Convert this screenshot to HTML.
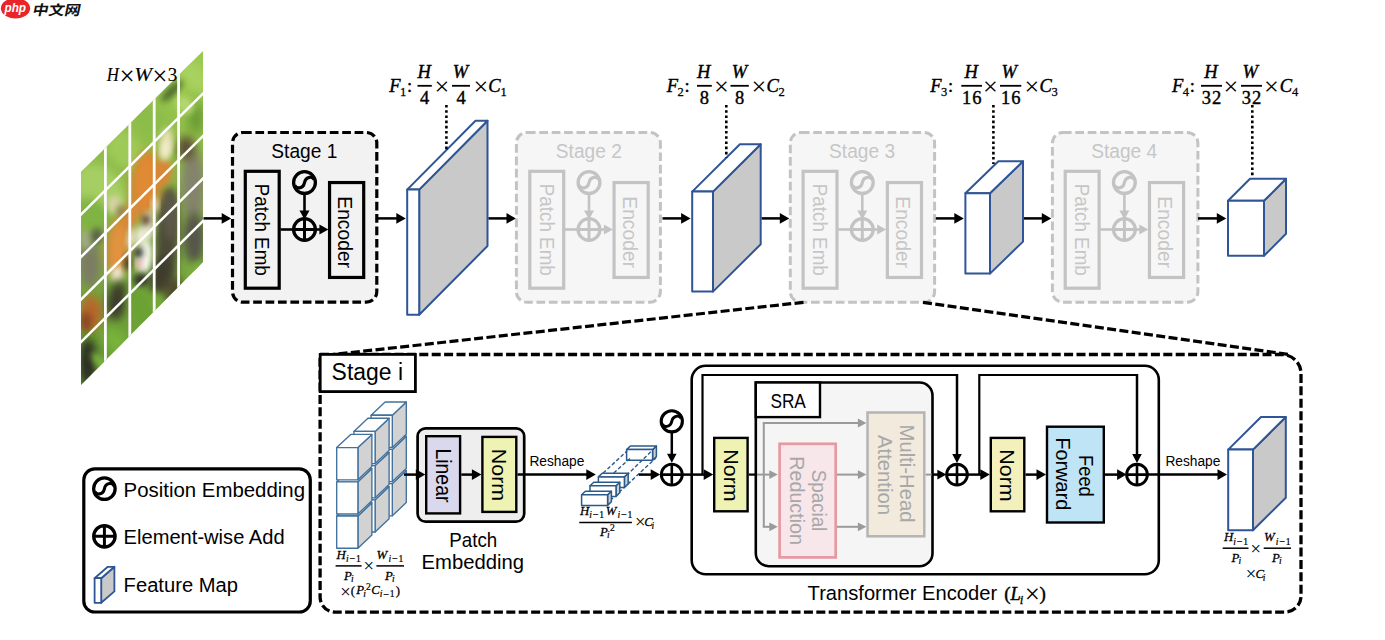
<!DOCTYPE html>
<html lang="zh"><head><meta charset="utf-8"><title>PVT architecture</title>
<style>html,body{margin:0;padding:0;background:#fff;}body{width:1385px;height:640px;overflow:hidden;}svg{display:block;}</style>
</head><body>
<svg width="1385" height="640" viewBox="0 0 1385 640">
<defs>
<filter id="b3" x="-50%" y="-50%" width="200%" height="200%"><feGaussianBlur stdDeviation="3"/></filter>
<filter id="b5" x="-50%" y="-50%" width="200%" height="200%"><feGaussianBlur stdDeviation="5"/></filter>
<filter id="b8" x="-50%" y="-50%" width="200%" height="200%"><feGaussianBlur stdDeviation="8"/></filter>
<clipPath id="pclip"><polygon points="81,172 203,51 203,262 81,385"/></clipPath>
<linearGradient id="bg" x1="0" y1="0" x2="0" y2="1"><stop offset="0" stop-color="#9cc94f"/><stop offset="0.5" stop-color="#86b545"/><stop offset="1" stop-color="#5f9630"/></linearGradient>
</defs>
<rect width="1385" height="640" fill="#fff"/>
<ellipse cx="15.5" cy="8.3" rx="14.6" ry="10.2" fill="#e8262a"/>
<text x="15.3" y="12.3" font-family="'Liberation Sans', sans-serif" font-size="13.5" font-weight="bold" font-style="italic" fill="#fff" text-anchor="middle" textLength="21.5" lengthAdjust="spacingAndGlyphs">php</text>
<text transform="translate(31.8,14.8) skewX(-12)" font-family="'Liberation Sans', 'Noto Sans CJK SC', sans-serif" font-size="13.8" font-weight="bold" fill="#111" textLength="48" lengthAdjust="spacingAndGlyphs">中文网</text>
<g clip-path="url(#pclip)">
<rect x="75" y="45" width="135" height="345" fill="url(#bg)"/>
<ellipse cx="100" cy="190" rx="22" ry="30" transform="rotate(-45 100 190)" fill="#a6cf63" filter="url(#b5)"/>
<ellipse cx="95" cy="215" rx="14" ry="20" transform="rotate(-45 95 215)" fill="#7fb342" filter="url(#b5)"/>
<ellipse cx="125" cy="150" rx="16" ry="22" transform="rotate(-45 125 150)" fill="#9fca58" filter="url(#b5)"/>
<ellipse cx="150" cy="120" rx="14" ry="18" transform="rotate(-45 150 120)" fill="#8cbc48" filter="url(#b5)"/>
<ellipse cx="192" cy="75" rx="12" ry="22" transform="rotate(-45 192 75)" fill="#a8d25e" filter="url(#b5)"/>
<ellipse cx="172" cy="91" rx="15" ry="4" transform="rotate(-45 172 91)" fill="#46622a" filter="url(#b3)"/>
<ellipse cx="196" cy="118" rx="8" ry="16" transform="rotate(0 196 118)" fill="#6c9c36" filter="url(#b5)"/>
<ellipse cx="185" cy="105" rx="8" ry="10" transform="rotate(-45 185 105)" fill="#b3d870" filter="url(#b3)"/>
<ellipse cx="193" cy="185" rx="12" ry="36" transform="rotate(0 193 185)" fill="#84826c" filter="url(#b5)"/>
<ellipse cx="194" cy="238" rx="11" ry="26" transform="rotate(0 194 238)" fill="#55554a" filter="url(#b5)"/>
<ellipse cx="186" cy="148" rx="9" ry="12" transform="rotate(0 186 148)" fill="#5c4c34" filter="url(#b5)"/>
<ellipse cx="198" cy="270" rx="7" ry="8" transform="rotate(0 198 270)" fill="#78ad3c" filter="url(#b3)"/>
<ellipse cx="90" cy="264" rx="11" ry="24" transform="rotate(0 90 264)" fill="#7b7b63" filter="url(#b5)"/>
<ellipse cx="86" cy="240" rx="6" ry="10" transform="rotate(0 86 240)" fill="#a3ab86" filter="url(#b3)"/>
<ellipse cx="97" cy="236" rx="6" ry="8" transform="rotate(0 97 236)" fill="#5a6148" filter="url(#b3)"/>
<ellipse cx="167" cy="240" rx="12" ry="54" transform="rotate(2 167 240)" fill="#4c4838" filter="url(#b5)"/>
<ellipse cx="170" cy="215" rx="7" ry="25" transform="rotate(0 170 215)" fill="#5d5848" filter="url(#b3)"/>
<ellipse cx="160" cy="275" rx="9" ry="20" transform="rotate(15 160 275)" fill="#3d3a2c" filter="url(#b5)"/>
<ellipse cx="174" cy="292" rx="7" ry="16" transform="rotate(10 174 292)" fill="#4a3c2a" filter="url(#b5)"/>
<ellipse cx="146" cy="184" rx="15" ry="34" transform="rotate(6 146 184)" fill="#d9822f" filter="url(#b5)"/>
<ellipse cx="145" cy="182" rx="10" ry="26" transform="rotate(6 145 182)" fill="#e08a34" filter="url(#b3)"/>
<ellipse cx="163" cy="173" rx="9" ry="14" transform="rotate(10 163 173)" fill="#d98634" filter="url(#b3)"/>
<ellipse cx="130" cy="216" rx="9" ry="18" transform="rotate(25 130 216)" fill="#d88a3a" filter="url(#b3)"/>
<ellipse cx="118" cy="247" rx="12" ry="30" transform="rotate(6 118 247)" fill="#d98a38" filter="url(#b5)"/>
<ellipse cx="118" cy="245" rx="6" ry="20" transform="rotate(6 118 245)" fill="#e29440" filter="url(#b3)"/>
<ellipse cx="166" cy="144" rx="6.5" ry="16" transform="rotate(8 166 144)" fill="#ebe2b8" filter="url(#b3)"/>
<ellipse cx="166" cy="150" rx="3.5" ry="9" transform="rotate(8 166 150)" fill="#f5efd2" filter="url(#b3)"/>
<ellipse cx="114" cy="204" rx="7" ry="9" transform="rotate(15 114 204)" fill="#d9d2a6" filter="url(#b3)"/>
<ellipse cx="121" cy="211" rx="4" ry="6" transform="rotate(0 121 211)" fill="#8c7a52" filter="url(#b3)"/>
<ellipse cx="148" cy="226" rx="5.5" ry="15" transform="rotate(3 148 226)" fill="#f1ead8" filter="url(#b3)"/>
<ellipse cx="144" cy="257" rx="8" ry="17" transform="rotate(6 144 257)" fill="#fbfaf3" filter="url(#b3)"/>
<ellipse cx="141" cy="236" rx="5.5" ry="10" transform="rotate(5 141 236)" fill="#f3eee0" filter="url(#b3)"/>
<ellipse cx="146" cy="220" rx="4" ry="5.5" transform="rotate(0 146 220)" fill="#4a2c16" filter="url(#b3)"/>
<ellipse cx="138.5" cy="252.5" rx="4.5" ry="5.2" transform="rotate(0 138.5 252.5)" fill="#1f1a16" filter="url(#b3)"/>
<ellipse cx="139.5" cy="264" rx="2.6" ry="3.2" transform="rotate(0 139.5 264)" fill="#d9707a" filter="url(#b3)"/>
<ellipse cx="132" cy="238" rx="4" ry="10" transform="rotate(10 132 238)" fill="#efe4cc" filter="url(#b3)"/>
<ellipse cx="117" cy="274" rx="6" ry="8" transform="rotate(15 117 274)" fill="#f1ecd8" filter="url(#b3)"/>
<ellipse cx="128" cy="263" rx="3.5" ry="8" transform="rotate(0 128 263)" fill="#3a2a1c" filter="url(#b3)"/>
<ellipse cx="155" cy="205" rx="3" ry="8" transform="rotate(0 155 205)" fill="#f1e8d0" filter="url(#b3)"/>
<ellipse cx="117" cy="301" rx="10" ry="20" transform="rotate(10 117 301)" fill="#3a3a2c" filter="url(#b5)"/>
<ellipse cx="141" cy="280" rx="8" ry="7" transform="rotate(0 141 280)" fill="#36342a" filter="url(#b3)"/>
<ellipse cx="91" cy="313" rx="11" ry="18" transform="rotate(0 91 313)" fill="#b9652c" filter="url(#b5)"/>
<ellipse cx="86" cy="322" rx="6" ry="10" transform="rotate(0 86 322)" fill="#8a4a22" filter="url(#b3)"/>
<ellipse cx="88" cy="362" rx="9" ry="24" transform="rotate(0 88 362)" fill="#2b2c24" filter="url(#b5)"/>
<ellipse cx="117" cy="343" rx="10" ry="18" transform="rotate(-40 117 343)" fill="#79b23a" filter="url(#b5)"/>
<ellipse cx="141" cy="306" rx="10" ry="19" transform="rotate(-30 141 306)" fill="#6aa233" filter="url(#b5)"/>
<ellipse cx="158" cy="303" rx="5" ry="12" transform="rotate(-30 158 303)" fill="#74aa38" filter="url(#b3)"/>
<ellipse cx="100" cy="362" rx="5" ry="12" transform="rotate(-40 100 362)" fill="#7cb53c" filter="url(#b3)"/>
<g transform="matrix(1,-0.992,0,1,81,172)" stroke="#fff" stroke-width="2.4" fill="none">
<line x1="24.4" y1="-5" x2="24.4" y2="220" stroke-width="2.8"/>
<line x1="48.8" y1="-5" x2="48.8" y2="220" stroke-width="2.8"/>
<line x1="73.2" y1="-5" x2="73.2" y2="220" stroke-width="2.8"/>
<line x1="97.6" y1="-5" x2="97.6" y2="220" stroke-width="2.8"/>
<line x1="-2" y1="42.5" x2="125" y2="42.5" stroke-width="3.5"/>
<line x1="-2" y1="85.0" x2="125" y2="85.0" stroke-width="3.5"/>
<line x1="-2" y1="127.5" x2="125" y2="127.5" stroke-width="3.5"/>
<line x1="-2" y1="170.0" x2="125" y2="170.0" stroke-width="3.5"/>
</g>
</g>
<text x="106.80" y="80.70" font-family="'Liberation Serif', serif" font-size="19" fill="#000" text-anchor="start" textLength="12.20" lengthAdjust="spacingAndGlyphs" font-style="italic" stroke="#000" stroke-width="0.15">H</text>
<text x="127.10" y="85.18" font-family="'Liberation Serif', serif" font-size="26.91" fill="#000" text-anchor="middle" >×</text>
<text x="134.20" y="80.70" font-family="'Liberation Serif', serif" font-size="19" fill="#000" text-anchor="start" textLength="17.80" lengthAdjust="spacingAndGlyphs" font-style="italic" stroke="#000" stroke-width="0.15">W</text>
<text x="159.80" y="85.18" font-family="'Liberation Serif', serif" font-size="26.91" fill="#000" text-anchor="middle" >×</text>
<text x="167.80" y="80.70" font-family="'Liberation Serif', serif" font-size="19" fill="#000" text-anchor="start" stroke="#000" stroke-width="0.15">3</text>
<line x1="203.50" y1="218.40" x2="222.70" y2="218.40" stroke="#000" stroke-width="2.5"/>
<polygon points="231.20,218.40 221.70,223.70 221.70,213.10" fill="#000"/>
<rect x="232.50" y="132.5" width="144.3" height="169.7" rx="10.5" ry="10.5" fill="#f2f2f2" stroke="#000" stroke-width="3.2" stroke-dasharray="8.7 3.7"/>
<text x="304.30" y="158.10" font-family="'Liberation Sans', sans-serif" font-size="20.5" fill="#000" text-anchor="middle" textLength="66.00" lengthAdjust="spacingAndGlyphs" >Stage 1</text>
<rect x="245.30" y="171.3" width="33.9" height="116.9" fill="#f2f2f2" stroke="#000" stroke-width="3.2"/>
<text transform="translate(255.20,183.80) rotate(90)" font-family="'Liberation Sans', sans-serif" font-size="20.6" fill="#000" textLength="92.00" lengthAdjust="spacingAndGlyphs">Patch Emb</text>
<rect x="329.55" y="182.55" width="34.15" height="94.9" fill="#f2f2f2" stroke="#000" stroke-width="3.2"/>
<text transform="translate(338.20,196.30) rotate(90)" font-family="'Liberation Sans', sans-serif" font-size="20.6" fill="#000" textLength="71.80" lengthAdjust="spacingAndGlyphs">Encoder</text>
<g transform="translate(304.50,182.60) rotate(0)">
<circle r="10.9" fill="none" stroke="#000" stroke-width="3.3"/>
<path d="M-9.59,2.62 C-8.61,6.54 -1.31,6.54 0,0 C1.31,-6.54 8.61,-6.54 9.59,-2.62" fill="none" stroke="#000" stroke-width="3.13"/>
</g>
<circle cx="304.50" cy="229.50" r="10.9" fill="none" stroke="#000" stroke-width="3.3"/>
<path d="M293.60,229.50H315.40M304.50,218.60V240.40" stroke="#000" stroke-width="2.97" fill="none"/>
<line x1="304.50" y1="194.00" x2="304.50" y2="211.60" stroke="#000" stroke-width="2.6"/>
<polygon points="304.50,219.60 299.50,210.60 309.50,210.60" fill="#000"/>
<line x1="280.50" y1="229.5" x2="294.00" y2="229.5" stroke="#000" stroke-width="2.6"/>
<line x1="315.00" y1="229.50" x2="320.40" y2="229.50" stroke="#000" stroke-width="2.6"/>
<polygon points="328.40,229.50 319.40,234.50 319.40,224.50" fill="#000"/>
<line x1="378.00" y1="218.40" x2="397.30" y2="218.40" stroke="#000" stroke-width="2.5"/>
<polygon points="405.80,218.40 396.30,223.70 396.30,213.10" fill="#000"/>
<polygon points="419.2,189.6 487.5,120.8 487.5,246.0 419.2,314.8" fill="#c9c9c9" stroke="#2f5597" stroke-width="2.0" stroke-linejoin="round"/>
<polygon points="407.2,189.6 475.5,120.8 487.5,120.8 419.2,189.6" fill="#fff" stroke="#2f5597" stroke-width="2.0" stroke-linejoin="round"/>
<rect x="407.2" y="189.6" width="12.0" height="125.20000000000002" fill="#fff" stroke="#2f5597" stroke-width="2.0" stroke-linejoin="round"/>
<line x1="488.50" y1="218.40" x2="507.50" y2="218.40" stroke="#000" stroke-width="2.5"/>
<polygon points="516.00,218.40 506.50,223.70 506.50,213.10" fill="#000"/>
<rect x="516.40" y="132.5" width="144.0" height="169.7" rx="10.5" ry="10.5" fill="#f6f6f6" stroke="#c3c3c3" stroke-width="3.0" stroke-dasharray="8.7 3.7"/>
<text x="588.80" y="158.10" font-family="'Liberation Sans', sans-serif" font-size="20.5" fill="#c6c6c6" text-anchor="middle" textLength="66.00" lengthAdjust="spacingAndGlyphs" >Stage 2</text>
<rect x="529.80" y="171.3" width="33.9" height="116.9" fill="#f6f6f6" stroke="#c3c3c3" stroke-width="3.2"/>
<text transform="translate(539.70,183.80) rotate(90)" font-family="'Liberation Sans', sans-serif" font-size="20.6" fill="#c6c6c6" textLength="92.00" lengthAdjust="spacingAndGlyphs">Patch Emb</text>
<rect x="614.05" y="182.55" width="34.15" height="94.9" fill="#f6f6f6" stroke="#c3c3c3" stroke-width="3.2"/>
<text transform="translate(622.70,196.30) rotate(90)" font-family="'Liberation Sans', sans-serif" font-size="20.6" fill="#c6c6c6" textLength="71.80" lengthAdjust="spacingAndGlyphs">Encoder</text>
<g transform="translate(589.00,182.60) rotate(0)">
<circle r="10.9" fill="none" stroke="#c3c3c3" stroke-width="3.3"/>
<path d="M-9.59,2.62 C-8.61,6.54 -1.31,6.54 0,0 C1.31,-6.54 8.61,-6.54 9.59,-2.62" fill="none" stroke="#c3c3c3" stroke-width="3.13"/>
</g>
<circle cx="589.00" cy="229.50" r="10.9" fill="none" stroke="#c3c3c3" stroke-width="3.3"/>
<path d="M578.10,229.50H599.90M589.00,218.60V240.40" stroke="#c3c3c3" stroke-width="2.97" fill="none"/>
<line x1="589.00" y1="194.00" x2="589.00" y2="211.60" stroke="#c3c3c3" stroke-width="2.6"/>
<polygon points="589.00,219.60 584.00,210.60 594.00,210.60" fill="#c3c3c3"/>
<line x1="565.00" y1="229.5" x2="578.50" y2="229.5" stroke="#c3c3c3" stroke-width="2.6"/>
<line x1="599.50" y1="229.50" x2="604.90" y2="229.50" stroke="#c3c3c3" stroke-width="2.6"/>
<polygon points="612.90,229.50 603.90,234.50 603.90,224.50" fill="#c3c3c3"/>
<line x1="662.50" y1="218.40" x2="682.10" y2="218.40" stroke="#000" stroke-width="2.5"/>
<polygon points="690.60,218.40 681.10,223.70 681.10,213.10" fill="#000"/>
<polygon points="713,191.6 760.7,144.3 760.7,244.3 713,291.6" fill="#c9c9c9" stroke="#2f5597" stroke-width="2.0" stroke-linejoin="round"/>
<polygon points="692.2,191.6 739.9000000000001,144.3 760.7,144.3 713,191.6" fill="#fff" stroke="#2f5597" stroke-width="2.0" stroke-linejoin="round"/>
<rect x="692.2" y="191.6" width="20.799999999999955" height="100.00000000000003" fill="#fff" stroke="#2f5597" stroke-width="2.0" stroke-linejoin="round"/>
<line x1="761.70" y1="218.40" x2="780.80" y2="218.40" stroke="#000" stroke-width="2.5"/>
<polygon points="789.30,218.40 779.80,223.70 779.80,213.10" fill="#000"/>
<rect x="790.30" y="132.5" width="144.3" height="169.7" rx="10.5" ry="10.5" fill="#f6f6f6" stroke="#c3c3c3" stroke-width="3.0" stroke-dasharray="8.7 3.7"/>
<text x="862.10" y="158.10" font-family="'Liberation Sans', sans-serif" font-size="20.5" fill="#c6c6c6" text-anchor="middle" textLength="66.00" lengthAdjust="spacingAndGlyphs" >Stage 3</text>
<rect x="803.10" y="171.3" width="33.9" height="116.9" fill="#f6f6f6" stroke="#c3c3c3" stroke-width="3.2"/>
<text transform="translate(813.00,183.80) rotate(90)" font-family="'Liberation Sans', sans-serif" font-size="20.6" fill="#c6c6c6" textLength="92.00" lengthAdjust="spacingAndGlyphs">Patch Emb</text>
<rect x="887.35" y="182.55" width="34.15" height="94.9" fill="#f6f6f6" stroke="#c3c3c3" stroke-width="3.2"/>
<text transform="translate(896.00,196.30) rotate(90)" font-family="'Liberation Sans', sans-serif" font-size="20.6" fill="#c6c6c6" textLength="71.80" lengthAdjust="spacingAndGlyphs">Encoder</text>
<g transform="translate(862.30,182.60) rotate(0)">
<circle r="10.9" fill="none" stroke="#c3c3c3" stroke-width="3.3"/>
<path d="M-9.59,2.62 C-8.61,6.54 -1.31,6.54 0,0 C1.31,-6.54 8.61,-6.54 9.59,-2.62" fill="none" stroke="#c3c3c3" stroke-width="3.13"/>
</g>
<circle cx="862.30" cy="229.50" r="10.9" fill="none" stroke="#c3c3c3" stroke-width="3.3"/>
<path d="M851.40,229.50H873.20M862.30,218.60V240.40" stroke="#c3c3c3" stroke-width="2.97" fill="none"/>
<line x1="862.30" y1="194.00" x2="862.30" y2="211.60" stroke="#c3c3c3" stroke-width="2.6"/>
<polygon points="862.30,219.60 857.30,210.60 867.30,210.60" fill="#c3c3c3"/>
<line x1="838.30" y1="229.5" x2="851.80" y2="229.5" stroke="#c3c3c3" stroke-width="2.6"/>
<line x1="872.80" y1="229.50" x2="878.20" y2="229.50" stroke="#c3c3c3" stroke-width="2.6"/>
<polygon points="886.20,229.50 877.20,234.50 877.20,224.50" fill="#c3c3c3"/>
<line x1="935.80" y1="218.40" x2="955.30" y2="218.40" stroke="#000" stroke-width="2.5"/>
<polygon points="963.80,218.40 954.30,223.70 954.30,213.10" fill="#000"/>
<polygon points="990,193.3 1023,161.3 1023,241.60000000000002 990,273.6" fill="#c9c9c9" stroke="#2f5597" stroke-width="2.0" stroke-linejoin="round"/>
<polygon points="965.4,193.3 998.4,161.3 1023,161.3 990,193.3" fill="#fff" stroke="#2f5597" stroke-width="2.0" stroke-linejoin="round"/>
<rect x="965.4" y="193.3" width="24.600000000000023" height="80.30000000000001" fill="#fff" stroke="#2f5597" stroke-width="2.0" stroke-linejoin="round"/>
<line x1="1024.00" y1="218.40" x2="1042.80" y2="218.40" stroke="#000" stroke-width="2.5"/>
<polygon points="1051.30,218.40 1041.80,223.70 1041.80,213.10" fill="#000"/>
<rect x="1052.40" y="132.5" width="145.5" height="169.7" rx="10.5" ry="10.5" fill="#f6f6f6" stroke="#c3c3c3" stroke-width="3.0" stroke-dasharray="8.7 3.7"/>
<text x="1124.20" y="158.10" font-family="'Liberation Sans', sans-serif" font-size="20.5" fill="#c6c6c6" text-anchor="middle" textLength="66.00" lengthAdjust="spacingAndGlyphs" >Stage 4</text>
<rect x="1065.20" y="171.3" width="33.9" height="116.9" fill="#f6f6f6" stroke="#c3c3c3" stroke-width="3.2"/>
<text transform="translate(1075.10,183.80) rotate(90)" font-family="'Liberation Sans', sans-serif" font-size="20.6" fill="#c6c6c6" textLength="92.00" lengthAdjust="spacingAndGlyphs">Patch Emb</text>
<rect x="1149.45" y="182.55" width="34.15" height="94.9" fill="#f6f6f6" stroke="#c3c3c3" stroke-width="3.2"/>
<text transform="translate(1158.10,196.30) rotate(90)" font-family="'Liberation Sans', sans-serif" font-size="20.6" fill="#c6c6c6" textLength="71.80" lengthAdjust="spacingAndGlyphs">Encoder</text>
<g transform="translate(1124.40,182.60) rotate(0)">
<circle r="10.9" fill="none" stroke="#c3c3c3" stroke-width="3.3"/>
<path d="M-9.59,2.62 C-8.61,6.54 -1.31,6.54 0,0 C1.31,-6.54 8.61,-6.54 9.59,-2.62" fill="none" stroke="#c3c3c3" stroke-width="3.13"/>
</g>
<circle cx="1124.40" cy="229.50" r="10.9" fill="none" stroke="#c3c3c3" stroke-width="3.3"/>
<path d="M1113.50,229.50H1135.30M1124.40,218.60V240.40" stroke="#c3c3c3" stroke-width="2.97" fill="none"/>
<line x1="1124.40" y1="194.00" x2="1124.40" y2="211.60" stroke="#c3c3c3" stroke-width="2.6"/>
<polygon points="1124.40,219.60 1119.40,210.60 1129.40,210.60" fill="#c3c3c3"/>
<line x1="1100.40" y1="229.5" x2="1113.90" y2="229.5" stroke="#c3c3c3" stroke-width="2.6"/>
<line x1="1134.90" y1="229.50" x2="1140.30" y2="229.50" stroke="#c3c3c3" stroke-width="2.6"/>
<polygon points="1148.30,229.50 1139.30,234.50 1139.30,224.50" fill="#c3c3c3"/>
<line x1="1198.00" y1="218.40" x2="1217.80" y2="218.40" stroke="#000" stroke-width="2.5"/>
<polygon points="1226.30,218.40 1216.80,223.70 1216.80,213.10" fill="#000"/>
<polygon points="1264,200.8 1286,178.8 1286,233.8 1264,255.8" fill="#c9c9c9" stroke="#2f5597" stroke-width="2.0" stroke-linejoin="round"/>
<polygon points="1228,200.8 1250,178.8 1286,178.8 1264,200.8" fill="#fff" stroke="#2f5597" stroke-width="2.0" stroke-linejoin="round"/>
<rect x="1228" y="200.8" width="36" height="55.0" fill="#fff" stroke="#2f5597" stroke-width="2.0" stroke-linejoin="round"/>
<line x1="446.4" y1="105" x2="446.4" y2="151.5" stroke="#000" stroke-width="2.6" stroke-dasharray="2.6 2.6"/>
<line x1="726.3" y1="105" x2="726.3" y2="157.5" stroke="#000" stroke-width="2.6" stroke-dasharray="2.6 2.6"/>
<line x1="993.4" y1="105" x2="993.4" y2="164" stroke="#000" stroke-width="2.6" stroke-dasharray="2.6 2.6"/>
<line x1="1252.3" y1="105" x2="1252.3" y2="176.5" stroke="#000" stroke-width="2.6" stroke-dasharray="2.6 2.6"/>
<text x="389.20" y="91.70" font-family="'Liberation Serif', serif" font-size="18.5" fill="#000" text-anchor="start" font-style="italic" stroke="#000" stroke-width="0.41">F</text>
<text x="399.90" y="96.20" font-family="'Liberation Serif', serif" font-size="12.5" fill="#000" text-anchor="start" stroke="#000" stroke-width="0.27">1</text>
<text x="406.90" y="91.70" font-family="'Liberation Serif', serif" font-size="18.5" fill="#000" text-anchor="start" stroke="#000" stroke-width="0.41">:</text>
<text x="424.30" y="77.50" font-family="'Liberation Serif', serif" font-size="18.5" fill="#000" text-anchor="middle" font-style="italic" stroke="#000" stroke-width="0.41">H</text>
<line x1="417.50" y1="85.80" x2="431.80" y2="85.80" stroke="#000" stroke-width="1.8"/>
<text x="424.65" y="104.30" font-family="'Liberation Serif', serif" font-size="18.5" fill="#000" text-anchor="middle" stroke="#000" stroke-width="0.41">4</text>
<text x="441.80" y="95.45" font-family="'Liberation Serif', serif" font-size="26.22" fill="#000" text-anchor="middle" >×</text>
<text x="460.50" y="77.50" font-family="'Liberation Serif', serif" font-size="18.5" fill="#000" text-anchor="middle" font-style="italic" stroke="#000" stroke-width="0.41">W</text>
<line x1="452.00" y1="85.80" x2="470.00" y2="85.80" stroke="#000" stroke-width="1.8"/>
<text x="461.00" y="104.30" font-family="'Liberation Serif', serif" font-size="18.5" fill="#000" text-anchor="middle" stroke="#000" stroke-width="0.41">4</text>
<text x="480.80" y="95.45" font-family="'Liberation Serif', serif" font-size="26.22" fill="#000" text-anchor="middle" >×</text>
<text x="488.30" y="91.70" font-family="'Liberation Serif', serif" font-size="18.5" fill="#000" text-anchor="start" font-style="italic" stroke="#000" stroke-width="0.41">C</text>
<text x="500.40" y="96.20" font-family="'Liberation Serif', serif" font-size="12.5" fill="#000" text-anchor="start" stroke="#000" stroke-width="0.27">1</text>
<text x="666.70" y="91.70" font-family="'Liberation Serif', serif" font-size="18.5" fill="#000" text-anchor="start" font-style="italic" stroke="#000" stroke-width="0.41">F</text>
<text x="677.40" y="96.20" font-family="'Liberation Serif', serif" font-size="12.5" fill="#000" text-anchor="start" stroke="#000" stroke-width="0.27">2</text>
<text x="684.40" y="91.70" font-family="'Liberation Serif', serif" font-size="18.5" fill="#000" text-anchor="start" stroke="#000" stroke-width="0.41">:</text>
<text x="703.80" y="77.50" font-family="'Liberation Serif', serif" font-size="18.5" fill="#000" text-anchor="middle" font-style="italic" stroke="#000" stroke-width="0.41">H</text>
<line x1="697.00" y1="85.80" x2="711.80" y2="85.80" stroke="#000" stroke-width="1.8"/>
<text x="704.40" y="104.30" font-family="'Liberation Serif', serif" font-size="18.5" fill="#000" text-anchor="middle" stroke="#000" stroke-width="0.41">8</text>
<text x="721.30" y="95.45" font-family="'Liberation Serif', serif" font-size="26.22" fill="#000" text-anchor="middle" >×</text>
<text x="739.50" y="77.50" font-family="'Liberation Serif', serif" font-size="18.5" fill="#000" text-anchor="middle" font-style="italic" stroke="#000" stroke-width="0.41">W</text>
<line x1="730.50" y1="85.80" x2="748.80" y2="85.80" stroke="#000" stroke-width="1.8"/>
<text x="739.65" y="104.30" font-family="'Liberation Serif', serif" font-size="18.5" fill="#000" text-anchor="middle" stroke="#000" stroke-width="0.41">8</text>
<text x="758.80" y="95.45" font-family="'Liberation Serif', serif" font-size="26.22" fill="#000" text-anchor="middle" >×</text>
<text x="766.50" y="91.70" font-family="'Liberation Serif', serif" font-size="18.5" fill="#000" text-anchor="start" font-style="italic" stroke="#000" stroke-width="0.41">C</text>
<text x="778.60" y="96.20" font-family="'Liberation Serif', serif" font-size="12.5" fill="#000" text-anchor="start" stroke="#000" stroke-width="0.27">2</text>
<text x="930.20" y="91.70" font-family="'Liberation Serif', serif" font-size="18.5" fill="#000" text-anchor="start" font-style="italic" stroke="#000" stroke-width="0.41">F</text>
<text x="940.90" y="96.20" font-family="'Liberation Serif', serif" font-size="12.5" fill="#000" text-anchor="start" stroke="#000" stroke-width="0.27">3</text>
<text x="947.90" y="91.70" font-family="'Liberation Serif', serif" font-size="18.5" fill="#000" text-anchor="start" stroke="#000" stroke-width="0.41">:</text>
<text x="971.30" y="77.50" font-family="'Liberation Serif', serif" font-size="18.5" fill="#000" text-anchor="middle" font-style="italic" stroke="#000" stroke-width="0.41">H</text>
<line x1="961.30" y1="85.80" x2="982.00" y2="85.80" stroke="#000" stroke-width="1.8"/>
<text x="972.15" y="104.30" font-family="'Liberation Serif', serif" font-size="18.5" fill="#000" text-anchor="middle" letter-spacing="1" stroke="#000" stroke-width="0.41">16</text>
<text x="990.50" y="95.45" font-family="'Liberation Serif', serif" font-size="26.22" fill="#000" text-anchor="middle" >×</text>
<text x="1009.30" y="77.50" font-family="'Liberation Serif', serif" font-size="18.5" fill="#000" text-anchor="middle" font-style="italic" stroke="#000" stroke-width="0.41">W</text>
<line x1="1000.00" y1="85.80" x2="1021.30" y2="85.80" stroke="#000" stroke-width="1.8"/>
<text x="1011.15" y="104.30" font-family="'Liberation Serif', serif" font-size="18.5" fill="#000" text-anchor="middle" letter-spacing="1" stroke="#000" stroke-width="0.41">16</text>
<text x="1031.80" y="95.45" font-family="'Liberation Serif', serif" font-size="26.22" fill="#000" text-anchor="middle" >×</text>
<text x="1039.50" y="91.70" font-family="'Liberation Serif', serif" font-size="18.5" fill="#000" text-anchor="start" font-style="italic" stroke="#000" stroke-width="0.41">C</text>
<text x="1051.60" y="96.20" font-family="'Liberation Serif', serif" font-size="12.5" fill="#000" text-anchor="start" stroke="#000" stroke-width="0.27">3</text>
<text x="1172.00" y="91.70" font-family="'Liberation Serif', serif" font-size="18.5" fill="#000" text-anchor="start" font-style="italic" stroke="#000" stroke-width="0.41">F</text>
<text x="1182.70" y="96.20" font-family="'Liberation Serif', serif" font-size="12.5" fill="#000" text-anchor="start" stroke="#000" stroke-width="0.27">4</text>
<text x="1189.70" y="91.70" font-family="'Liberation Serif', serif" font-size="18.5" fill="#000" text-anchor="start" stroke="#000" stroke-width="0.41">:</text>
<text x="1211.00" y="77.50" font-family="'Liberation Serif', serif" font-size="18.5" fill="#000" text-anchor="middle" font-style="italic" stroke="#000" stroke-width="0.41">H</text>
<line x1="1201.00" y1="85.80" x2="1222.00" y2="85.80" stroke="#000" stroke-width="1.8"/>
<text x="1212.00" y="104.30" font-family="'Liberation Serif', serif" font-size="18.5" fill="#000" text-anchor="middle" letter-spacing="1" stroke="#000" stroke-width="0.41">32</text>
<text x="1231.00" y="95.45" font-family="'Liberation Serif', serif" font-size="26.22" fill="#000" text-anchor="middle" >×</text>
<text x="1250.30" y="77.50" font-family="'Liberation Serif', serif" font-size="18.5" fill="#000" text-anchor="middle" font-style="italic" stroke="#000" stroke-width="0.41">W</text>
<line x1="1241.00" y1="85.80" x2="1262.00" y2="85.80" stroke="#000" stroke-width="1.8"/>
<text x="1252.00" y="104.30" font-family="'Liberation Serif', serif" font-size="18.5" fill="#000" text-anchor="middle" letter-spacing="1" stroke="#000" stroke-width="0.41">32</text>
<text x="1271.50" y="95.45" font-family="'Liberation Serif', serif" font-size="26.22" fill="#000" text-anchor="middle" >×</text>
<text x="1279.80" y="91.70" font-family="'Liberation Serif', serif" font-size="18.5" fill="#000" text-anchor="start" font-style="italic" stroke="#000" stroke-width="0.41">C</text>
<text x="1291.90" y="96.20" font-family="'Liberation Serif', serif" font-size="12.5" fill="#000" text-anchor="start" stroke="#000" stroke-width="0.27">4</text>
<line x1="803.5" y1="302.3" x2="320" y2="356" stroke="#000" stroke-width="3.2" stroke-dasharray="9 3.4"/>
<line x1="923" y1="302.4" x2="1290" y2="354.6" stroke="#000" stroke-width="3.2" stroke-dasharray="9 3.4"/>
<path d="M320.1,354.5H1282.0A19,19 0 0 1 1301.0,373.5V596.1A16,16 0 0 1 1285.0,612.1H335.1A15,15 0 0 1 320.1,597.1Z" fill="none" stroke="#000" stroke-width="3.3" stroke-dasharray="9 3.4"/>
<rect x="320.2" y="354.4" width="95.2" height="37.2" fill="#fff" stroke="#000" stroke-width="2.8"/>
<text x="331.60" y="380.20" font-family="'Liberation Sans', sans-serif" font-size="23.5" fill="#000" text-anchor="start" textLength="71.40" lengthAdjust="spacingAndGlyphs" >Stage i</text>
<polygon points="392.30,483.60 406.30,470.40 406.30,502.60 392.30,515.80" fill="#d2d2d2" stroke="#41719c" stroke-width="1.35" stroke-linejoin="round"/>
<polygon points="371.10,483.60 385.10,470.40 406.30,470.40 392.30,483.60" fill="#fff" stroke="#41719c" stroke-width="1.35" stroke-linejoin="round"/>
<rect x="371.10" y="483.60" width="21.20" height="32.20" fill="#fff" stroke="#41719c" stroke-width="1.35" stroke-linejoin="round"/>
<polygon points="392.30,449.40 406.30,436.20 406.30,468.40 392.30,481.60" fill="#d2d2d2" stroke="#41719c" stroke-width="1.35" stroke-linejoin="round"/>
<polygon points="371.10,449.40 385.10,436.20 406.30,436.20 392.30,449.40" fill="#fff" stroke="#41719c" stroke-width="1.35" stroke-linejoin="round"/>
<rect x="371.10" y="449.40" width="21.20" height="32.20" fill="#fff" stroke="#41719c" stroke-width="1.35" stroke-linejoin="round"/>
<polygon points="392.30,415.20 406.30,402.00 406.30,434.20 392.30,447.40" fill="#d2d2d2" stroke="#41719c" stroke-width="1.35" stroke-linejoin="round"/>
<polygon points="371.10,415.20 385.10,402.00 406.30,402.00 392.30,415.20" fill="#fff" stroke="#41719c" stroke-width="1.35" stroke-linejoin="round"/>
<rect x="371.10" y="415.20" width="21.20" height="32.20" fill="#fff" stroke="#41719c" stroke-width="1.35" stroke-linejoin="round"/>
<polygon points="375.10,499.80 389.10,486.60 389.10,518.80 375.10,532.00" fill="#d2d2d2" stroke="#41719c" stroke-width="1.35" stroke-linejoin="round"/>
<polygon points="353.90,499.80 367.90,486.60 389.10,486.60 375.10,499.80" fill="#fff" stroke="#41719c" stroke-width="1.35" stroke-linejoin="round"/>
<rect x="353.90" y="499.80" width="21.20" height="32.20" fill="#fff" stroke="#41719c" stroke-width="1.35" stroke-linejoin="round"/>
<polygon points="375.10,465.60 389.10,452.40 389.10,484.60 375.10,497.80" fill="#d2d2d2" stroke="#41719c" stroke-width="1.35" stroke-linejoin="round"/>
<polygon points="353.90,465.60 367.90,452.40 389.10,452.40 375.10,465.60" fill="#fff" stroke="#41719c" stroke-width="1.35" stroke-linejoin="round"/>
<rect x="353.90" y="465.60" width="21.20" height="32.20" fill="#fff" stroke="#41719c" stroke-width="1.35" stroke-linejoin="round"/>
<polygon points="375.10,431.40 389.10,418.20 389.10,450.40 375.10,463.60" fill="#d2d2d2" stroke="#41719c" stroke-width="1.35" stroke-linejoin="round"/>
<polygon points="353.90,431.40 367.90,418.20 389.10,418.20 375.10,431.40" fill="#fff" stroke="#41719c" stroke-width="1.35" stroke-linejoin="round"/>
<rect x="353.90" y="431.40" width="21.20" height="32.20" fill="#fff" stroke="#41719c" stroke-width="1.35" stroke-linejoin="round"/>
<polygon points="357.90,516.00 371.90,502.80 371.90,535.00 357.90,548.20" fill="#d2d2d2" stroke="#41719c" stroke-width="1.35" stroke-linejoin="round"/>
<polygon points="336.70,516.00 350.70,502.80 371.90,502.80 357.90,516.00" fill="#fff" stroke="#41719c" stroke-width="1.35" stroke-linejoin="round"/>
<rect x="336.70" y="516.00" width="21.20" height="32.20" fill="#fff" stroke="#41719c" stroke-width="1.35" stroke-linejoin="round"/>
<polygon points="357.90,481.80 371.90,468.60 371.90,500.80 357.90,514.00" fill="#d2d2d2" stroke="#41719c" stroke-width="1.35" stroke-linejoin="round"/>
<polygon points="336.70,481.80 350.70,468.60 371.90,468.60 357.90,481.80" fill="#fff" stroke="#41719c" stroke-width="1.35" stroke-linejoin="round"/>
<rect x="336.70" y="481.80" width="21.20" height="32.20" fill="#fff" stroke="#41719c" stroke-width="1.35" stroke-linejoin="round"/>
<polygon points="357.90,447.60 371.90,434.40 371.90,466.60 357.90,479.80" fill="#d2d2d2" stroke="#41719c" stroke-width="1.35" stroke-linejoin="round"/>
<polygon points="336.70,447.60 350.70,434.40 371.90,434.40 357.90,447.60" fill="#fff" stroke="#41719c" stroke-width="1.35" stroke-linejoin="round"/>
<rect x="336.70" y="447.60" width="21.20" height="32.20" fill="#fff" stroke="#41719c" stroke-width="1.35" stroke-linejoin="round"/>
<rect x="417.6" y="428.3" width="106.6" height="93.4" rx="8" ry="8" fill="#eeeeee" stroke="#000" stroke-width="2.7"/>
<rect x="426.2" y="436.2" width="33.9" height="77.2" fill="#dad8ec" stroke="#000" stroke-width="2.4"/>
<rect x="482.4" y="436.9" width="33.9" height="75" fill="#eef2b3" stroke="#000" stroke-width="2.4"/>
<text transform="translate(435.70,448.40) rotate(90)" font-family="'Liberation Sans', sans-serif" font-size="21.5" fill="#000" textLength="54.00" lengthAdjust="spacingAndGlyphs">Linear</text>
<text transform="translate(491.90,448.80) rotate(90)" font-family="'Liberation Sans', sans-serif" font-size="21" fill="#000" textLength="52.30" lengthAdjust="spacingAndGlyphs">Norm</text>
<line x1="404.00" y1="474.60" x2="416.80" y2="474.60" stroke="#000" stroke-width="2.5"/>
<polygon points="425.30,474.60 415.80,479.90 415.80,469.30" fill="#000"/>
<line x1="461.30" y1="474.60" x2="472.90" y2="474.60" stroke="#000" stroke-width="2.5"/>
<polygon points="481.40,474.60 471.90,479.90 471.90,469.30" fill="#000"/>
<line x1="517.50" y1="474.60" x2="587.30" y2="474.60" stroke="#000" stroke-width="2.5"/>
<polygon points="595.80,474.60 586.30,479.90 586.30,469.30" fill="#000"/>
<text x="529.40" y="466.30" font-family="'Liberation Sans', sans-serif" font-size="14" fill="#000" text-anchor="start" textLength="55.00" lengthAdjust="spacingAndGlyphs" >Reshape</text>
<text x="473.30" y="546.50" font-family="'Liberation Sans', sans-serif" font-size="21" fill="#000" text-anchor="middle" textLength="48.00" lengthAdjust="spacingAndGlyphs" >Patch</text>
<text x="472.80" y="569.00" font-family="'Liberation Sans', sans-serif" font-size="21" fill="#000" text-anchor="middle" textLength="102.50" lengthAdjust="spacingAndGlyphs" >Embedding</text>
<polygon points="652.60,449.60 656.40,446.00 656.40,456.60 652.60,460.20" fill="#cfcfcf" stroke="#2a5a8c" stroke-width="1.5" stroke-linejoin="round"/>
<polygon points="626.60,449.60 630.40,446.00 656.40,446.00 652.60,449.60" fill="#fff" stroke="#2a5a8c" stroke-width="1.5" stroke-linejoin="round"/>
<rect x="626.60" y="449.60" width="26.00" height="10.60" fill="#fff" stroke="#2a5a8c" stroke-width="1.5" stroke-linejoin="round"/>
<g stroke="#2a5a8c" stroke-width="1.4" stroke-dasharray="3.8 2.2" fill="none">
<line x1="603.1" y1="473.1" x2="627.2" y2="450.8"/>
<line x1="613.7" y1="473.1" x2="630.1" y2="458.4"/>
<line x1="626.6" y1="475.4" x2="652.4" y2="450.2"/>
<line x1="610.2" y1="500.6" x2="655.9" y2="457.9"/>
</g>
<polygon points="624.40,476.90 628.20,473.30 628.20,483.90 624.40,487.50" fill="#cfcfcf" stroke="#2a5a8c" stroke-width="1.5" stroke-linejoin="round"/>
<polygon points="598.40,476.90 602.20,473.30 628.20,473.30 624.40,476.90" fill="#fff" stroke="#2a5a8c" stroke-width="1.5" stroke-linejoin="round"/>
<rect x="598.40" y="476.90" width="26.00" height="10.60" fill="#fff" stroke="#2a5a8c" stroke-width="1.5" stroke-linejoin="round"/>
<polygon points="616.00,485.80 619.80,482.20 619.80,492.80 616.00,496.40" fill="#cfcfcf" stroke="#2a5a8c" stroke-width="1.5" stroke-linejoin="round"/>
<polygon points="590.00,485.80 593.80,482.20 619.80,482.20 616.00,485.80" fill="#fff" stroke="#2a5a8c" stroke-width="1.5" stroke-linejoin="round"/>
<rect x="590.00" y="485.80" width="26.00" height="10.60" fill="#fff" stroke="#2a5a8c" stroke-width="1.5" stroke-linejoin="round"/>
<polygon points="607.60,494.80 611.40,491.20 611.40,501.80 607.60,505.40" fill="#cfcfcf" stroke="#2a5a8c" stroke-width="1.5" stroke-linejoin="round"/>
<polygon points="581.60,494.80 585.40,491.20 611.40,491.20 607.60,494.80" fill="#fff" stroke="#2a5a8c" stroke-width="1.5" stroke-linejoin="round"/>
<rect x="581.60" y="494.80" width="26.00" height="10.60" fill="#fff" stroke="#2a5a8c" stroke-width="1.5" stroke-linejoin="round"/>
<line x1="638.80" y1="474.60" x2="651.70" y2="474.60" stroke="#000" stroke-width="2.5"/>
<polygon points="660.20,474.60 650.70,479.90 650.70,469.30" fill="#000"/>
<text x="579.90" y="514.70" font-family="'Liberation Serif', serif" font-size="12.8" fill="#000" text-anchor="start" font-style="italic" stroke="#000" stroke-width="0.28">H</text>
<text x="589.30" y="517.80" font-family="'Liberation Serif', serif" font-size="9.6" fill="#000" text-anchor="start" font-style="italic" stroke="#000" stroke-width="0.21">i</text>
<text x="592.80" y="518.30" font-family="'Liberation Serif', serif" font-size="11.5" fill="#000" text-anchor="start" textLength="5.70" lengthAdjust="spacingAndGlyphs" stroke="#000" stroke-width="0.25">−</text>
<text x="599.30" y="517.80" font-family="'Liberation Serif', serif" font-size="9.6" fill="#000" text-anchor="start" stroke="#000" stroke-width="0.21">1</text>
<text x="605.80" y="514.70" font-family="'Liberation Serif', serif" font-size="12.8" fill="#000" text-anchor="start" font-style="italic" stroke="#000" stroke-width="0.28">W</text>
<text x="617.60" y="517.80" font-family="'Liberation Serif', serif" font-size="9.6" fill="#000" text-anchor="start" font-style="italic" stroke="#000" stroke-width="0.21">i</text>
<text x="621.10" y="518.30" font-family="'Liberation Serif', serif" font-size="11.5" fill="#000" text-anchor="start" textLength="5.70" lengthAdjust="spacingAndGlyphs" stroke="#000" stroke-width="0.25">−</text>
<text x="627.60" y="517.80" font-family="'Liberation Serif', serif" font-size="9.6" fill="#000" text-anchor="start" stroke="#000" stroke-width="0.21">1</text>
<line x1="579.30" y1="522.40" x2="631.90" y2="522.40" stroke="#000" stroke-width="1.5"/>
<text x="600.10" y="535.50" font-family="'Liberation Serif', serif" font-size="12.8" fill="#000" text-anchor="start" font-style="italic" stroke="#000" stroke-width="0.28">P</text>
<text x="607.10" y="538.10" font-family="'Liberation Serif', serif" font-size="9.6" fill="#000" text-anchor="start" font-style="italic" stroke="#000" stroke-width="0.21">i</text>
<text x="609.90" y="531.10" font-family="'Liberation Serif', serif" font-size="9.6" fill="#000" text-anchor="start" stroke="#000" stroke-width="0.21">2</text>
<text x="640.30" y="528.05" font-family="'Liberation Serif', serif" font-size="18.63" fill="#000" text-anchor="middle" >×</text>
<text x="644.20" y="525.60" font-family="'Liberation Serif', serif" font-size="12.8" fill="#000" text-anchor="start" font-style="italic" stroke="#000" stroke-width="0.28">C</text>
<text x="651.40" y="528.60" font-family="'Liberation Serif', serif" font-size="9.6" fill="#000" text-anchor="start" font-style="italic" stroke="#000" stroke-width="0.21">i</text>
<text x="336.60" y="558.60" font-family="'Liberation Serif', serif" font-size="12.8" fill="#000" text-anchor="start" font-style="italic" stroke="#000" stroke-width="0.28">H</text>
<text x="346.00" y="561.70" font-family="'Liberation Serif', serif" font-size="9.6" fill="#000" text-anchor="start" font-style="italic" stroke="#000" stroke-width="0.21">i</text>
<text x="349.50" y="562.20" font-family="'Liberation Serif', serif" font-size="11.5" fill="#000" text-anchor="start" textLength="5.70" lengthAdjust="spacingAndGlyphs" stroke="#000" stroke-width="0.25">−</text>
<text x="356.00" y="561.70" font-family="'Liberation Serif', serif" font-size="9.6" fill="#000" text-anchor="start" stroke="#000" stroke-width="0.21">1</text>
<line x1="335.60" y1="565.90" x2="361.60" y2="565.90" stroke="#000" stroke-width="1.5"/>
<text x="344.10" y="579.60" font-family="'Liberation Serif', serif" font-size="12.8" fill="#000" text-anchor="start" font-style="italic" stroke="#000" stroke-width="0.28">P</text>
<text x="351.10" y="582.20" font-family="'Liberation Serif', serif" font-size="9.6" fill="#000" text-anchor="start" font-style="italic" stroke="#000" stroke-width="0.21">i</text>
<text x="368.80" y="572.05" font-family="'Liberation Serif', serif" font-size="18.63" fill="#000" text-anchor="middle" >×</text>
<text x="376.60" y="558.60" font-family="'Liberation Serif', serif" font-size="12.8" fill="#000" text-anchor="start" font-style="italic" stroke="#000" stroke-width="0.28">W</text>
<text x="388.40" y="561.70" font-family="'Liberation Serif', serif" font-size="9.6" fill="#000" text-anchor="start" font-style="italic" stroke="#000" stroke-width="0.21">i</text>
<text x="391.90" y="562.20" font-family="'Liberation Serif', serif" font-size="11.5" fill="#000" text-anchor="start" textLength="5.70" lengthAdjust="spacingAndGlyphs" stroke="#000" stroke-width="0.25">−</text>
<text x="398.40" y="561.70" font-family="'Liberation Serif', serif" font-size="9.6" fill="#000" text-anchor="start" stroke="#000" stroke-width="0.21">1</text>
<line x1="376.40" y1="565.90" x2="404.00" y2="565.90" stroke="#000" stroke-width="1.5"/>
<text x="385.00" y="579.60" font-family="'Liberation Serif', serif" font-size="12.8" fill="#000" text-anchor="start" font-style="italic" stroke="#000" stroke-width="0.28">P</text>
<text x="392.00" y="582.20" font-family="'Liberation Serif', serif" font-size="9.6" fill="#000" text-anchor="start" font-style="italic" stroke="#000" stroke-width="0.21">i</text>
<text x="345.50" y="597.55" font-family="'Liberation Serif', serif" font-size="18.63" fill="#000" text-anchor="middle" >×</text>
<text x="350.70" y="594.60" font-family="'Liberation Serif', serif" font-size="12.8" fill="#000" text-anchor="start" stroke="#000" stroke-width="0.28">(</text>
<text x="356.20" y="594.40" font-family="'Liberation Serif', serif" font-size="12.8" fill="#000" text-anchor="start" font-style="italic" stroke="#000" stroke-width="0.28">P</text>
<text x="363.20" y="597.00" font-family="'Liberation Serif', serif" font-size="9.6" fill="#000" text-anchor="start" font-style="italic" stroke="#000" stroke-width="0.21">i</text>
<text x="366.00" y="590.00" font-family="'Liberation Serif', serif" font-size="9.6" fill="#000" text-anchor="start" stroke="#000" stroke-width="0.21">2</text>
<text x="371.30" y="594.40" font-family="'Liberation Serif', serif" font-size="12.8" fill="#000" text-anchor="start" font-style="italic" stroke="#000" stroke-width="0.28">C</text>
<text x="379.70" y="597.30" font-family="'Liberation Serif', serif" font-size="9.6" fill="#000" text-anchor="start" font-style="italic" stroke="#000" stroke-width="0.21">i</text>
<text x="383.20" y="597.80" font-family="'Liberation Serif', serif" font-size="11.5" fill="#000" text-anchor="start" textLength="5.70" lengthAdjust="spacingAndGlyphs" stroke="#000" stroke-width="0.25">−</text>
<text x="389.70" y="597.30" font-family="'Liberation Serif', serif" font-size="9.6" fill="#000" text-anchor="start" stroke="#000" stroke-width="0.21">1</text>
<text x="395.80" y="594.60" font-family="'Liberation Serif', serif" font-size="12.8" fill="#000" text-anchor="start" stroke="#000" stroke-width="0.28">)</text>
<g transform="translate(671.80,421.30) rotate(0)">
<circle r="10.6" fill="none" stroke="#000" stroke-width="3.1"/>
<path d="M-9.33,2.54 C-8.37,6.36 -1.27,6.36 0,0 C1.27,-6.36 8.37,-6.36 9.33,-2.54" fill="none" stroke="#000" stroke-width="2.94"/>
</g>
<line x1="671.80" y1="432.50" x2="671.80" y2="454.80" stroke="#000" stroke-width="2.5"/>
<polygon points="671.80,462.80 667.00,453.80 676.60,453.80" fill="#000"/>
<circle cx="671.80" cy="474.60" r="10.5" fill="none" stroke="#000" stroke-width="2.9"/>
<path d="M661.30,474.60H682.30M671.80,464.10V485.10" stroke="#000" stroke-width="2.61" fill="none"/>
<rect x="691.7" y="365.8" width="467.1" height="208.5" rx="14" ry="14" fill="none" stroke="#000" stroke-width="2.6"/>
<line x1="682.50" y1="474.60" x2="704.70" y2="474.60" stroke="#000" stroke-width="2.5"/>
<polygon points="713.20,474.60 703.70,479.90 703.70,469.30" fill="#000"/>
<path d="M702.5,474.6V375H957" fill="none" stroke="#000" stroke-width="2.2"/>
<line x1="957.00" y1="374.00" x2="957.00" y2="455.00" stroke="#000" stroke-width="2.5"/>
<polygon points="957.00,463.00 952.20,454.00 961.80,454.00" fill="#000"/>
<rect x="714.2" y="437.9" width="33.4" height="73.4" fill="#eef2b3" stroke="#000" stroke-width="2.4"/>
<text transform="translate(723.60,449.30) rotate(90)" font-family="'Liberation Sans', sans-serif" font-size="21" fill="#000" textLength="52.30" lengthAdjust="spacingAndGlyphs">Norm</text>
<path d="M755.8,382.5H919.5A13,13 0 0 1 932.5,395.5V553.2A13,13 0 0 1 919.5,566.2H768.8A13,13 0 0 1 755.8,553.2Z" fill="#f5f5f5" stroke="#000" stroke-width="2.6"/>
<rect x="755.8" y="382.5" width="64.2" height="34.6" fill="#fff" stroke="#000" stroke-width="2.4"/>
<text x="770.40" y="408.20" font-family="'Liberation Sans', sans-serif" font-size="20.5" fill="#000" text-anchor="start" textLength="35.50" lengthAdjust="spacingAndGlyphs" >SRA</text>
<line x1="748.7" y1="474.6" x2="757" y2="474.6" stroke="#000" stroke-width="2.2"/>
<line x1="757.00" y1="474.60" x2="770.30" y2="474.60" stroke="#9a9a9a" stroke-width="2.0"/>
<polygon points="777.80,474.60 769.30,479.00 769.30,470.20" fill="#9a9a9a"/>
<path d="M763.8,526.8V423" fill="none" stroke="#9a9a9a" stroke-width="2.0"/>
<line x1="762.80" y1="423.00" x2="858.90" y2="423.00" stroke="#9a9a9a" stroke-width="2.0"/>
<polygon points="866.40,423.00 857.90,427.40 857.90,418.60" fill="#9a9a9a"/>
<line x1="762.80" y1="526.80" x2="770.30" y2="526.80" stroke="#9a9a9a" stroke-width="2.0"/>
<polygon points="777.80,526.80 769.30,531.20 769.30,522.40" fill="#9a9a9a"/>
<line x1="837.00" y1="474.60" x2="858.90" y2="474.60" stroke="#9a9a9a" stroke-width="2.0"/>
<polygon points="866.40,474.60 857.90,479.00 857.90,470.20" fill="#9a9a9a"/>
<line x1="837.00" y1="526.80" x2="858.90" y2="526.80" stroke="#9a9a9a" stroke-width="2.0"/>
<polygon points="866.40,526.80 857.90,531.20 857.90,522.40" fill="#9a9a9a"/>
<line x1="925.5" y1="474.6" x2="931.5" y2="474.6" stroke="#9a9a9a" stroke-width="2.0"/>
<rect x="779.6" y="443.8" width="56.1" height="113.6" fill="#f7e6ea" stroke="#e59aa2" stroke-width="2.7"/>
<text transform="translate(811.80,469.80) rotate(90)" font-family="'Liberation Sans', sans-serif" font-size="20.5" fill="#a8a8a8" textLength="61.50" lengthAdjust="spacingAndGlyphs">Spacial</text>
<text transform="translate(789.50,456.20) rotate(90)" font-family="'Liberation Sans', sans-serif" font-size="20.5" fill="#a8a8a8" textLength="88.80" lengthAdjust="spacingAndGlyphs">Reduction</text>
<rect x="867.5" y="412.5" width="56.8" height="123.8" fill="#f2eadd" stroke="#b4b4b4" stroke-width="2.5"/>
<text transform="translate(899.60,424.50) rotate(90)" font-family="'Liberation Sans', sans-serif" font-size="20.5" fill="#a8a8a8" textLength="98.00" lengthAdjust="spacingAndGlyphs">Multi-Head</text>
<text transform="translate(877.70,435.00) rotate(90)" font-family="'Liberation Sans', sans-serif" font-size="20.5" fill="#a8a8a8" textLength="80.00" lengthAdjust="spacingAndGlyphs">Attention</text>
<line x1="932.50" y1="474.60" x2="938.40" y2="474.60" stroke="#000" stroke-width="2.5"/>
<polygon points="946.40,474.60 937.40,479.40 937.40,469.80" fill="#000"/>
<circle cx="957.00" cy="474.60" r="10.4" fill="none" stroke="#000" stroke-width="2.9"/>
<path d="M946.60,474.60H967.40M957.00,464.20V485.00" stroke="#000" stroke-width="2.61" fill="none"/>
<line x1="967.50" y1="474.60" x2="981.30" y2="474.60" stroke="#000" stroke-width="2.5"/>
<polygon points="989.80,474.60 980.30,479.90 980.30,469.30" fill="#000"/>
<path d="M979.3,474.6V375H1137" fill="none" stroke="#000" stroke-width="2.2"/>
<line x1="1137.00" y1="374.00" x2="1137.00" y2="455.00" stroke="#000" stroke-width="2.5"/>
<polygon points="1137.00,463.00 1132.20,454.00 1141.80,454.00" fill="#000"/>
<rect x="990.8" y="437.9" width="33.5" height="73.4" fill="#f3f0bb" stroke="#000" stroke-width="2.4"/>
<text transform="translate(1000.20,449.30) rotate(90)" font-family="'Liberation Sans', sans-serif" font-size="21" fill="#000" textLength="52.30" lengthAdjust="spacingAndGlyphs">Norm</text>
<line x1="1025.50" y1="474.60" x2="1037.50" y2="474.60" stroke="#000" stroke-width="2.5"/>
<polygon points="1046.00,474.60 1036.50,479.90 1036.50,469.30" fill="#000"/>
<rect x="1047" y="426.7" width="56.8" height="95.8" fill="#bfe4f6" stroke="#000" stroke-width="2.4"/>
<text transform="translate(1078.90,455.00) rotate(90)" font-family="'Liberation Sans', sans-serif" font-size="21" fill="#000" textLength="41.80" lengthAdjust="spacingAndGlyphs">Feed</text>
<text transform="translate(1056.30,437.50) rotate(90)" font-family="'Liberation Sans', sans-serif" font-size="21" fill="#000" textLength="72.80" lengthAdjust="spacingAndGlyphs">Forward</text>
<line x1="1105.00" y1="474.60" x2="1118.10" y2="474.60" stroke="#000" stroke-width="2.5"/>
<polygon points="1126.60,474.60 1117.10,479.90 1117.10,469.30" fill="#000"/>
<circle cx="1137.00" cy="474.60" r="10.4" fill="none" stroke="#000" stroke-width="2.9"/>
<path d="M1126.60,474.60H1147.40M1137.00,464.20V485.00" stroke="#000" stroke-width="2.61" fill="none"/>
<line x1="1147.50" y1="474.60" x2="1218.50" y2="474.60" stroke="#000" stroke-width="2.5"/>
<polygon points="1227.00,474.60 1217.50,479.90 1217.50,469.30" fill="#000"/>
<text x="1165.40" y="466.30" font-family="'Liberation Sans', sans-serif" font-size="14" fill="#000" text-anchor="start" textLength="55.00" lengthAdjust="spacingAndGlyphs" >Reshape</text>
<text x="807.60" y="600.20" font-family="'Liberation Sans', sans-serif" font-size="20.5" fill="#000" text-anchor="start" textLength="189.50" lengthAdjust="spacingAndGlyphs" >Transformer Encoder</text>
<text x="1004.20" y="600.20" font-family="'Liberation Serif', serif" font-size="19" fill="#000" text-anchor="start" stroke="#000" stroke-width="0.42">(</text>
<text x="1010.40" y="600.20" font-family="'Liberation Serif', serif" font-size="18.5" fill="#000" text-anchor="start" font-style="italic" stroke="#000" stroke-width="0.41">L</text>
<text x="1019.80" y="604.40" font-family="'Liberation Serif', serif" font-size="13" fill="#000" text-anchor="start" font-style="italic" stroke="#000" stroke-width="0.29">i</text>
<text x="1032.40" y="603.08" font-family="'Liberation Serif', serif" font-size="26.91" fill="#000" text-anchor="middle" >×</text>
<text x="1039.60" y="600.20" font-family="'Liberation Serif', serif" font-size="19" fill="#000" text-anchor="start" stroke="#000" stroke-width="0.42">)</text>
<polygon points="1253,449.6 1285.8,417.0 1285.8,497.69999999999993 1253,530.3" fill="#c9c9c9" stroke="#2f5597" stroke-width="2.0" stroke-linejoin="round"/>
<polygon points="1228.2,449.6 1261.0,417.0 1285.8,417.0 1253,449.6" fill="#fff" stroke="#2f5597" stroke-width="2.0" stroke-linejoin="round"/>
<rect x="1228.2" y="449.6" width="24.799999999999955" height="80.69999999999993" fill="#fff" stroke="#2f5597" stroke-width="2.0" stroke-linejoin="round"/>
<text x="1223.90" y="541.40" font-family="'Liberation Serif', serif" font-size="12.8" fill="#000" text-anchor="start" font-style="italic" stroke="#000" stroke-width="0.28">H</text>
<text x="1233.30" y="544.50" font-family="'Liberation Serif', serif" font-size="9.6" fill="#000" text-anchor="start" font-style="italic" stroke="#000" stroke-width="0.21">i</text>
<text x="1236.80" y="545.00" font-family="'Liberation Serif', serif" font-size="11.5" fill="#000" text-anchor="start" textLength="5.70" lengthAdjust="spacingAndGlyphs" stroke="#000" stroke-width="0.25">−</text>
<text x="1243.30" y="544.50" font-family="'Liberation Serif', serif" font-size="9.6" fill="#000" text-anchor="start" stroke="#000" stroke-width="0.21">1</text>
<line x1="1222.70" y1="548.20" x2="1248.50" y2="548.20" stroke="#000" stroke-width="1.5"/>
<text x="1231.40" y="561.70" font-family="'Liberation Serif', serif" font-size="12.8" fill="#000" text-anchor="start" font-style="italic" stroke="#000" stroke-width="0.28">P</text>
<text x="1238.40" y="564.30" font-family="'Liberation Serif', serif" font-size="9.6" fill="#000" text-anchor="start" font-style="italic" stroke="#000" stroke-width="0.21">i</text>
<text x="1255.70" y="555.05" font-family="'Liberation Serif', serif" font-size="18.63" fill="#000" text-anchor="middle" >×</text>
<text x="1263.90" y="541.40" font-family="'Liberation Serif', serif" font-size="12.8" fill="#000" text-anchor="start" font-style="italic" stroke="#000" stroke-width="0.28">W</text>
<text x="1275.70" y="544.50" font-family="'Liberation Serif', serif" font-size="9.6" fill="#000" text-anchor="start" font-style="italic" stroke="#000" stroke-width="0.21">i</text>
<text x="1279.20" y="545.00" font-family="'Liberation Serif', serif" font-size="11.5" fill="#000" text-anchor="start" textLength="5.70" lengthAdjust="spacingAndGlyphs" stroke="#000" stroke-width="0.25">−</text>
<text x="1285.70" y="544.50" font-family="'Liberation Serif', serif" font-size="9.6" fill="#000" text-anchor="start" stroke="#000" stroke-width="0.21">1</text>
<line x1="1263.70" y1="548.20" x2="1291.00" y2="548.20" stroke="#000" stroke-width="1.5"/>
<text x="1271.90" y="561.70" font-family="'Liberation Serif', serif" font-size="12.8" fill="#000" text-anchor="start" font-style="italic" stroke="#000" stroke-width="0.28">P</text>
<text x="1278.90" y="564.30" font-family="'Liberation Serif', serif" font-size="9.6" fill="#000" text-anchor="start" font-style="italic" stroke="#000" stroke-width="0.21">i</text>
<text x="1251.10" y="580.35" font-family="'Liberation Serif', serif" font-size="18.63" fill="#000" text-anchor="middle" >×</text>
<text x="1255.60" y="577.90" font-family="'Liberation Serif', serif" font-size="12.8" fill="#000" text-anchor="start" font-style="italic" stroke="#000" stroke-width="0.28">C</text>
<text x="1262.80" y="580.90" font-family="'Liberation Serif', serif" font-size="9.6" fill="#000" text-anchor="start" font-style="italic" stroke="#000" stroke-width="0.21">i</text>
<rect x="83.8" y="468.8" width="226.5" height="143.2" rx="11" ry="11" fill="#fff" stroke="#000" stroke-width="3.2"/>
<g transform="translate(104.40,488.70) rotate(0)">
<circle r="10.75" fill="none" stroke="#000" stroke-width="3.3"/>
<path d="M-9.46,2.58 C-8.49,6.45 -1.29,6.45 0,0 C1.29,-6.45 8.49,-6.45 9.46,-2.58" fill="none" stroke="#000" stroke-width="3.13"/>
</g>
<circle cx="104.40" cy="536.30" r="10.7" fill="none" stroke="#000" stroke-width="3.3"/>
<path d="M93.70,536.30H115.10M104.40,525.60V547.00" stroke="#000" stroke-width="2.97" fill="none"/>
<polygon points="101.2,578.2 114.4,566.8000000000001 114.4,591.4 101.2,602.8" fill="#c9c9c9" stroke="#2f5597" stroke-width="1.8" stroke-linejoin="round"/>
<polygon points="94.6,578.2 107.8,566.8000000000001 114.4,566.8000000000001 101.2,578.2" fill="#fff" stroke="#2f5597" stroke-width="1.8" stroke-linejoin="round"/>
<rect x="94.6" y="578.2" width="6.6000000000000085" height="24.59999999999991" fill="#fff" stroke="#2f5597" stroke-width="1.8" stroke-linejoin="round"/>
<text x="123.60" y="496.90" font-family="'Liberation Sans', sans-serif" font-size="20" fill="#000" text-anchor="start" textLength="181.40" lengthAdjust="spacingAndGlyphs" >Position Embedding</text>
<text x="123.60" y="544.20" font-family="'Liberation Sans', sans-serif" font-size="20" fill="#000" text-anchor="start" textLength="161.00" lengthAdjust="spacingAndGlyphs" >Element-wise Add</text>
<text x="123.60" y="591.70" font-family="'Liberation Sans', sans-serif" font-size="20" fill="#000" text-anchor="start" textLength="114.40" lengthAdjust="spacingAndGlyphs" >Feature Map</text>
</svg>
</body></html>
